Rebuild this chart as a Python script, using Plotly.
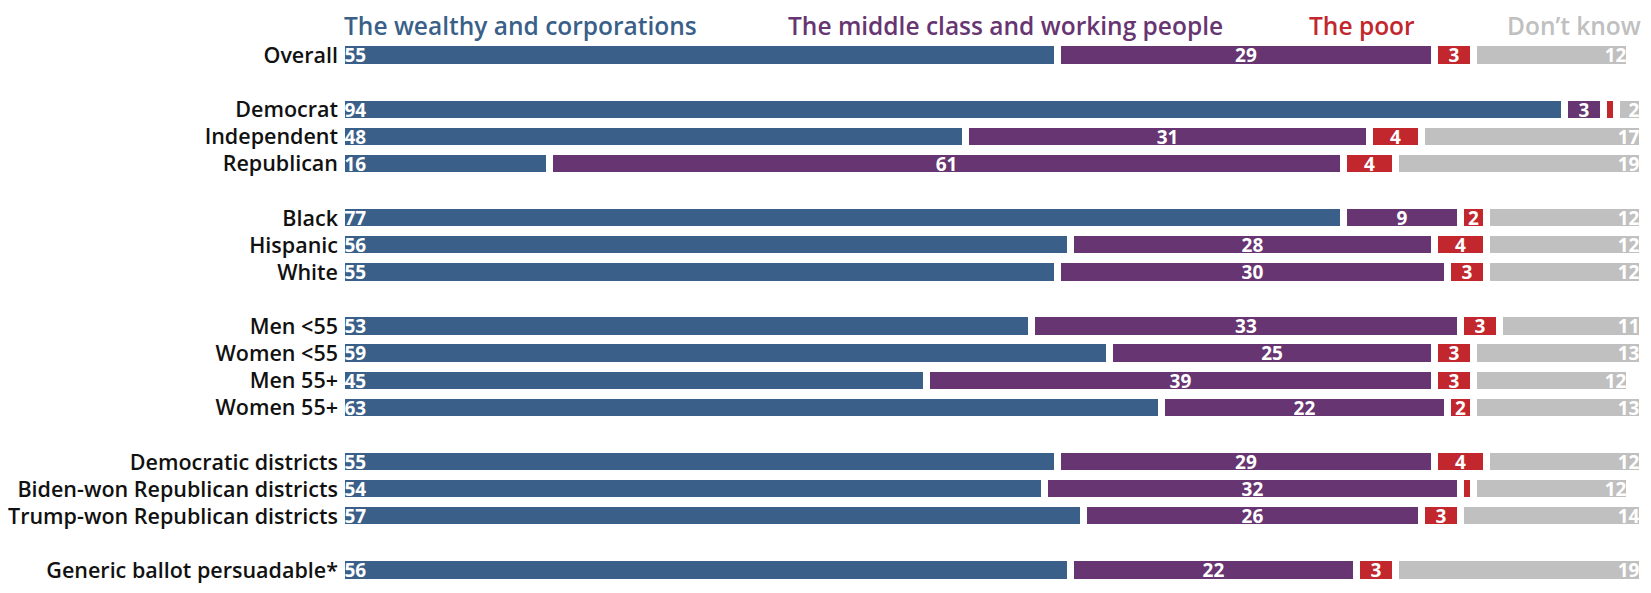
import plotly.graph_objects as go

# ---- data ----
groups = [
    ["Overall"],
    ["Democrat", "Independent", "Republican"],
    ["Black", "Hispanic", "White"],
    ["Men <55", "Women <55", "Men 55+", "Women 55+"],
    ["Democratic districts", "Biden-won Republican districts", "Trump-won Republican districts"],
    ["Generic ballot persuadable*"],
]
series_names = ["The wealthy and corporations", "The middle class and working people",
                "The poor", "Don\u2019t know"]
wealthy = [55, 94, 48, 16, 77, 56, 55, 53, 59, 45, 63, 55, 54, 57, 56]
middle = [29, 3, 31, 61, 9, 28, 30, 33, 25, 39, 22, 29, 32, 26, 22]
poor = [3, 1, 4, 4, 2, 4, 3, 3, 3, 3, 2, 4, 1, 3, 3]
dont_know = [12, 2, 17, 19, 12, 12, 12, 11, 13, 12, 13, 12, 12, 14, 19]

# ---- styling ----
colors = ["#3a5f88", "#673571", "#c1272d", "#c0c0c0"]
anchors = ["start", "middle", "middle", "end"]
header_x = [0, 34.1, 74.2, 100]
header_anchor = ["left", "left", "left", "right"]
FONT = "Open Sans"

# row positions with blank rows between groups
labels, ypos = [], []
r = 0
for g in groups:
    for lab in g:
        labels.append(lab)
        ypos.append(r)
        r += 1
    r += 1
last_row = max(ypos)

fig = go.Figure()
for name, vals, col, anc in zip(series_names, [wealthy, middle, poor, dont_know], colors, anchors):
    fig.add_trace(go.Bar(
        x=vals, y=ypos, orientation="h", name=name,
        marker=dict(color=col, line=dict(color="white", width=7)),
        width=0.9,
        text=[str(v) if v > 1 else "" for v in vals],
        textposition="inside", insidetextanchor=anc, textangle=0,
        textfont=dict(family=FONT, size=19, color="white", weight="bold"),
        constraintext="none",
        hoverinfo="skip",
    ))

for name, col, hx, ha in zip(series_names, colors, header_x, header_anchor):
    fig.add_annotation(
        x=hx, y=1.031, xref="x", yref="paper", text=name, showarrow=False,
        xanchor=ha, yanchor="middle",
        font=dict(family=FONT, size=24.5, color=col, weight=600),
    )

fig.update_layout(
    barmode="stack",
    width=1635, height=577,
    margin=dict(l=334, r=0, t=34, b=1),
    paper_bgcolor="white", plot_bgcolor="white",
    showlegend=False,
    bargap=0,
    xaxis=dict(range=[0, 100], visible=False, fixedrange=True, automargin=False),
    yaxis=dict(range=[last_row + 0.5, -0.5], tickvals=ypos, ticktext=labels,
               showgrid=False, zeroline=False, showline=False, ticks="",
               automargin=False, ticklabelstandoff=3, ticklabeloverflow="allow",
               tickfont=dict(family=FONT, size=21.5, color="#111111", weight=600)),
)

fig.write_html("out.html")
